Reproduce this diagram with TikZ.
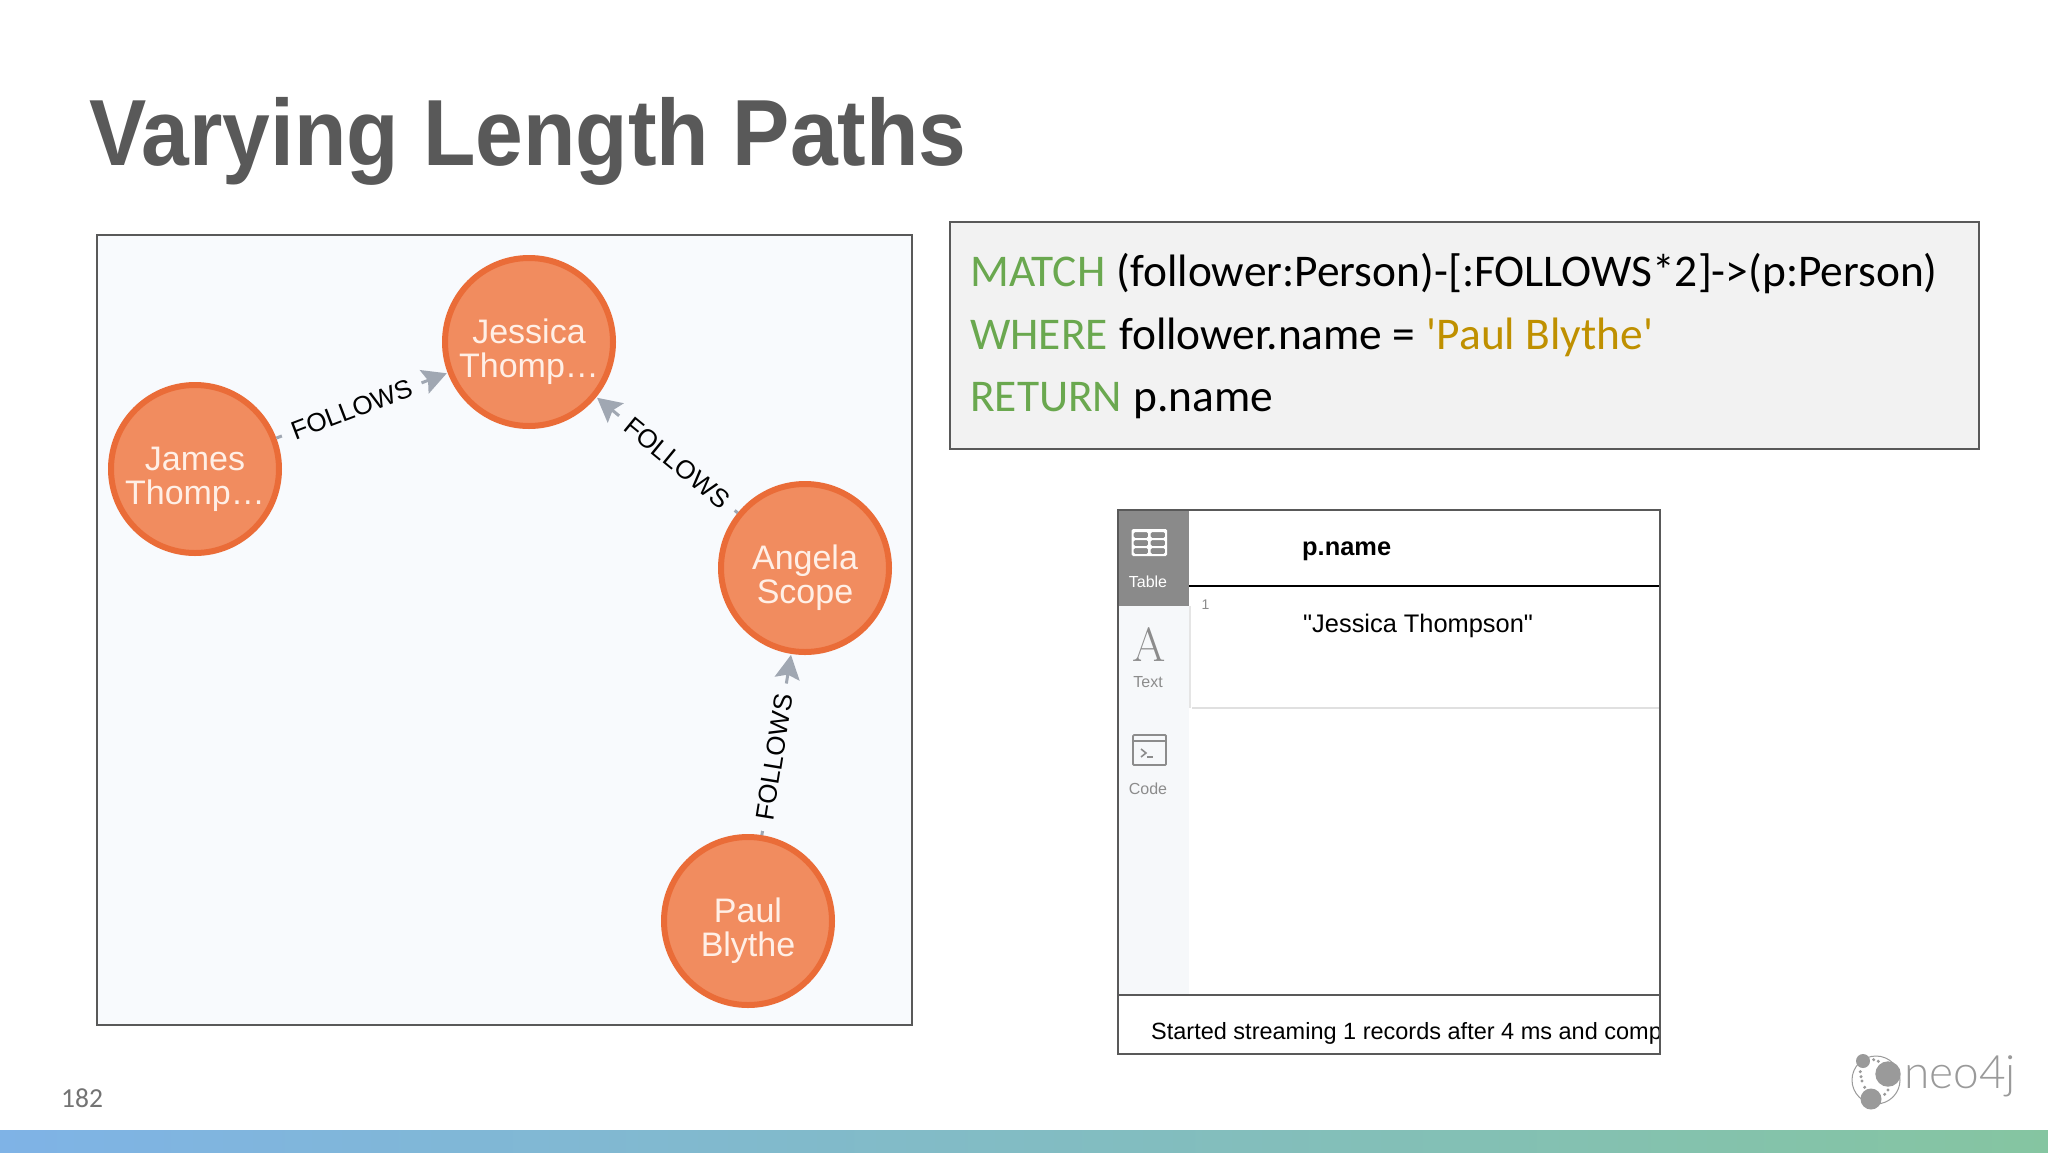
\documentclass[tikz,border=0pt]{standalone}
\usepackage{fontspec}
\setmainfont{Liberation Sans}
\newfontfamily\cellfont{Liberation Sans}
\newfontfamily\codefont{Carlito}
\newfontfamily\logofont{Lato Light}
\newfontfamily\iconfont{Latin Modern Roman}
\usetikzlibrary{arrows.meta}
\newcommand{\fsz}[1]{\fontsize{#1pt}{#1pt}\selectfont}
\definecolor{inkgrey}{HTML}{595959}
\definecolor{panelbg}{HTML}{F8FAFD}
\definecolor{codebg}{HTML}{F2F2F2}
\definecolor{nodefill}{HTML}{F18C5F}
\definecolor{nodeline}{HTML}{EA6C38}
\definecolor{nodetext}{HTML}{FFEFE6}
\definecolor{edgecol}{HTML}{A0A7B2}
\definecolor{kwgreen}{HTML}{6AA84F}
\definecolor{strgold}{HTML}{BF9000}
\definecolor{sidebg}{HTML}{F6F8FA}
\definecolor{sideact}{HTML}{8A8A8A}
\definecolor{sidetxt}{HTML}{8C8C8C}
\definecolor{logogrey}{HTML}{9A9A9A}
\definecolor{barleft}{HTML}{7FB3E6}
\definecolor{barright}{HTML}{85C5A1}
\tikzset{
  person/.style={circle,fill=nodefill,draw=nodeline,line width=6pt,minimum size=168pt,inner sep=0pt,
    text=nodetext,align=center},
  persontext/.style={font=\fsz{34},text=nodetext,align=center,inner sep=0pt},
  follows/.style={draw=edgecol,line width=3pt,shorten >=1pt,-{Stealth[length=24pt,width=25pt,inset=4pt]}},
  edgelabel/.style={fill=panelbg,text=black,font=\fsz{26},inner xsep=11pt,inner ysep=3pt,sloped},
  frame/.style={draw=inkgrey,line width=2pt},
  txt/.style={anchor=base west,inner sep=0pt},
  codeline/.style={txt,font=\codefont\fsz{45.4}},
  sidelabel/.style={anchor=base,inner sep=0pt,font=\fsz{16}},
  iconline/.style={draw=sidetxt,line width=1.8pt,rounded corners=1pt},
}
\begin{document}
\begin{tikzpicture}[x=1pt,y=-1pt]
\useasboundingbox (0,0) rectangle (2048,1152);
\fill[white] (0,0) rectangle (2048,1152);
% title
\node[txt,text=inkgrey,font=\bfseries\fsz{94}] (title) at (89,165) {\scalebox{.913}[1]{Varying Length Paths}};
% graph panel
\draw[frame,fill=panelbg] (96.5,235) rectangle (912,1025);
\node[person,label={[persontext,yshift=-10pt]center:Jessica\\Thomp\dots}] (jessica) at (529,342) {};
\node[person,label={[persontext,yshift=-10pt]center:James\\Thomp\dots}] (james) at (195,469) {};
\node[person,label={[persontext,yshift=-10pt]center:Angela\\Scope}] (angela) at (805,568) {};
\node[person,label={[persontext,yshift=-10pt]center:Paul\\Blythe}] (paul) at (748,921) {};
\draw[follows] (james) -- node[edgelabel,pos=.44]{FOLLOWS} (jessica);
\draw[follows] (angela) -- node[edgelabel,pos=.43]{FOLLOWS} (jessica);
\draw[follows] (paul) -- node[edgelabel,pos=.43]{FOLLOWS} (angela);
% code panel
\draw[frame,fill=codebg] (950,222) rectangle (1979,449);
\node[codeline,text=kwgreen] (c1a) at (970,286) {MATCH};
\node[codeline,text=black] (c1b) at (c1a.base east) [xshift=11pt] {(follower:Person)-[:FOLLOWS*2]->(p:Person)};
\node[codeline,text=kwgreen] (c2a) at (970,349) {WHERE};
\node[codeline,text=black] (c2b) at (c2a.base east) [xshift=11pt] {follower.name =};
\node[codeline,text=strgold] (c2c) at (c2b.base east) [xshift=11pt] {'Paul Blythe'};
\node[codeline,text=kwgreen] (c3a) at (970,411) {RETURN};
\node[codeline,text=black] (c3b) at (c3a.base east) [xshift=11pt] {p.name};
% table panel
\fill[white] (1118,510) rectangle (1660,1054);
\fill[sidebg] (1118,606) rectangle (1189,995);
\fill[sideact] (1118,510) rectangle (1189,606);
\draw[black,line width=2pt] (1189,586) -- (1660,586);
\draw[black!12,line width=1.5pt] (1192,708) -- (1660,708);
\draw[black!10,line width=1.5pt] (1190,606) -- (1190,708);
\draw[inkgrey,line width=2pt] (1118,995) -- (1660,995);
\node[txt,font=\bfseries\fsz{25.4}] (colhead) at (1302,555) {p.name};
\node[txt,font=\cellfont\fsz{25.4}] (cell) at (1303,632) {"Jessica Thompson"};
\node[anchor=base,inner sep=0pt,text=sidetxt,font=\fsz{14}] (rownum) at (1205.5,609) {1};
\begin{scope}
\clip (1118,995) rectangle (1660,1054);
\node[txt,font=\fsz{23.5}] (status) at (1151,1039) {Started streaming 1 records after 4 ms and completed};
\end{scope}
\draw[frame] (1118,510) rectangle (1660,1054);
% sidebar labels and icons
\node[sidelabel,text=white] (ltable) at (1148,587) {Table};
\node[sidelabel,text=sidetxt] (ltext) at (1148,687) {Text};
\node[sidelabel,text=sidetxt] (lcode) at (1148,794) {Code};
\node[anchor=base,inner sep=0pt,text=sidetxt,font=\iconfont\fsz{48}] (iconA) at (1149,661) {A};
\fill[white,rounded corners=1.5pt,even odd rule] (1131.5,529) rectangle (1167,556)
  (1133.5,532) rectangle (1148,538) (1150.5,532) rectangle (1165,538)
  (1133.5,540) rectangle (1148,546) (1150.5,540) rectangle (1165,546)
  (1133.5,548) rectangle (1148,554) (1150.5,548) rectangle (1165,554);
\draw[iconline] (1133,735) rectangle (1166,765);
\draw[iconline] (1133,741) -- (1166,741);
\draw[sidetxt,line width=1.6pt] (1141,749) -- (1146,753) -- (1141,757);
\draw[sidetxt,line width=1.6pt] (1147,757) -- (1153,757);
% footer
\node[txt,text=black!55,font=\codefont\fsz{27.5}] (pageno) at (61,1107) {182};
\shade[left color=barleft,right color=barright] (0,1130) rectangle (2048,1152);
% logo
\draw[logogrey,line width=1pt] (1876,1080) circle (24pt);
\fill[logogrey] (1888,1074) circle (12.7pt) (1863,1061) circle (7pt) (1871,1099) circle (10.5pt);
\foreach \px/\py in {1873.7/1059.7,1878.3/1061.3,1860.3/1071.7,1861/1076.7,1862/1081,1864.7/1087.3,1884.7/1094.3,1888/1090}
  \fill[logogrey] (\px,\py) circle (1.7pt);
\node[txt,text=logogrey,font=\logofont\fsz{46}] (logo) at (1904,1088) {neo4j};
\end{tikzpicture}
\end{document}
